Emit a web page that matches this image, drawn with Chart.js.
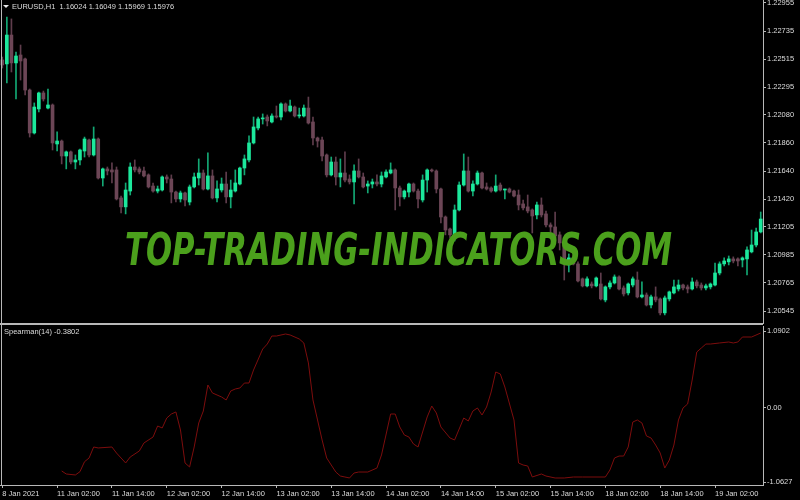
<!DOCTYPE html>
<html><head><meta charset="utf-8">
<script src="https://cdn.jsdelivr.net/npm/chart.js@4"></script>
<style>
html,body{margin:0;padding:0;background:#000;width:800px;height:500px;overflow:hidden}
canvas{position:absolute;left:0}
#main{top:0}
#sub{top:324px}
.lbl{position:absolute;color:#dcdcdc;font:7.5px "Liberation Sans",Arial,sans-serif;white-space:pre;line-height:10px}
#tri{position:absolute;left:3px;top:5px;width:0;height:0;border-left:3px solid transparent;border-right:3px solid transparent;border-top:3px solid #e8e8e8}
#wm{position:absolute;left:125px;top:228px;font:italic bold 44px "DejaVu Sans",sans-serif;line-height:44px;color:#4ba01c;white-space:pre;transform-origin:0 0}
</style></head><body>
<canvas id="main" width="800" height="324"></canvas>
<canvas id="sub" width="800" height="176"></canvas>
<div id="tri"></div>
<div class="lbl" id="title" style="left:12px;top:2px"></div>
<div class="lbl" id="ind" style="left:4px;top:327px"></div>
<div id="wm"></div>
<script>
// ---- data ----
const symbolTitle = 'EURUSD,H1  1.16024 1.16049 1.15969 1.15976';
const indicatorTitle = 'Spearman(14) -0.3802';
const watermark = 'TOP-TRADING-INDICATORS.COM';
const sessionDays = ['8 Jan','11 Jan','12 Jan','13 Jan','14 Jan','15 Jan','18 Jan','19 Jan'];
const firstDayStartHour = 14;
const lastDayEndHour = 12;
const firstLabel = '8 Jan 2021';
const priceTicks = [1.22955,1.22735,1.22515,1.22295,1.22080,1.21860,1.21640,1.21420,1.21205,1.20985,1.20765,1.20545];
const spearmanTicks = [1.0902, 0, -1.0627];

const opens = [
1.22509,1.22478,1.22704,1.22486,1.22548,1.22517,1.22274,1.21938,1.22126,1.22251,
1.22133,1.22157,1.21852,1.21875,1.21758,1.21790,1.21711,1.21727,1.21797,1.21883,
1.21766,1.21891,1.21586,1.21657,1.21649,1.21649,1.21430,1.21360,1.21484,1.21672,
1.21657,1.21641,1.21610,1.21523,1.21484,1.21492,1.21594,1.21578,1.21476,1.21422,
1.21469,1.21398,1.21516,1.21586,1.21625,1.21500,1.21602,1.21430,1.21492,1.21539,
1.21438,1.21484,1.21539,1.21664,1.21727,1.21860,1.21977,1.22048,1.22063,1.22024,
1.22071,1.22063,1.22165,1.22110,1.22141,1.22071,1.22071,1.22133,1.22024,1.21899,
1.21883,1.21766,1.21610,1.21711,1.21594,1.21625,1.21578,1.21555,1.21641,1.21594,
1.21523,1.21539,1.21555,1.21539,1.21594,1.21625,1.21649,1.21508,1.21438,1.21476,
1.21539,1.21484,1.21414,1.21570,1.21649,1.21641,1.21500,1.21281,1.21187,1.21141,
1.21336,1.21531,1.21641,1.21484,1.21539,1.21625,1.21516,1.21508,1.21484,1.21531,
1.21492,1.21500,1.21484,1.21453,1.21383,1.21360,1.21336,1.21297,1.21375,1.21305,
1.21219,1.21203,1.21141,1.21078,1.20906,1.20961,1.20914,1.20797,1.20742,1.20757,
1.20742,1.20757,1.20632,1.20734,1.20765,1.20812,1.20726,1.20687,1.20749,1.20788,
1.20656,1.20671,1.20593,1.20656,1.20640,1.20531,1.20640,1.20687,1.20718,1.20749,
1.20734,1.20718,1.20773,1.20749,1.20726,1.20734,1.20749,1.20843,1.20914,1.20930,
1.20953,1.20953,1.20945,1.20953,1.21008,1.21062,1.21164];
const highs = [
1.22532,1.22845,1.22830,1.22571,1.22626,1.22524,1.22282,1.22173,1.22258,1.22266,
1.22282,1.22165,1.21946,1.21883,1.21797,1.21797,1.21766,1.21813,1.21906,1.21891,
1.21985,1.21899,1.21664,1.21672,1.21704,1.21672,1.21445,1.21547,1.21704,1.21727,
1.21672,1.21672,1.21618,1.21547,1.21523,1.21602,1.21610,1.21610,1.21484,1.21484,
1.21476,1.21531,1.21625,1.21735,1.21649,1.21782,1.21649,1.21563,1.21586,1.21633,
1.21570,1.21649,1.21672,1.21766,1.21915,1.22063,1.22063,1.22087,1.22079,1.22087,
1.22149,1.22173,1.22173,1.22196,1.22149,1.22133,1.22157,1.22219,1.22063,1.21906,
1.21906,1.21774,1.21750,1.21750,1.21735,1.21790,1.21610,1.21688,1.21735,1.21625,
1.21563,1.21578,1.21610,1.21633,1.21649,1.21704,1.21657,1.21523,1.21492,1.21547,
1.21547,1.21500,1.21610,1.21657,1.21657,1.21649,1.21508,1.21289,1.21195,1.21375,
1.21555,1.21774,1.21750,1.21563,1.21641,1.21633,1.21547,1.21516,1.21610,1.21547,
1.21500,1.21508,1.21492,1.21492,1.21414,1.21453,1.21344,1.21398,1.21430,1.21328,
1.21235,1.21320,1.21164,1.21086,1.20992,1.20984,1.20930,1.20804,1.20812,1.20773,
1.20812,1.20843,1.20742,1.20781,1.20828,1.20820,1.20742,1.20765,1.20812,1.20851,
1.20773,1.20687,1.20671,1.20734,1.20648,1.20663,1.20702,1.20788,1.20788,1.20757,
1.20749,1.20804,1.20788,1.20765,1.20757,1.20765,1.20921,1.20930,1.20961,1.20976,
1.20969,1.20961,1.20969,1.21047,1.21179,1.21195,1.21320];
const lows = [
1.22446,1.22329,1.22415,1.22204,1.22352,1.22235,1.21906,1.21930,1.22102,1.22188,
1.22126,1.21805,1.21797,1.21696,1.21657,1.21696,1.21657,1.21688,1.21750,1.21750,
1.21758,1.21578,1.21523,1.21610,1.21547,1.21414,1.21313,1.21305,1.21453,1.21633,
1.21618,1.21594,1.21508,1.21476,1.21469,1.21484,1.21547,1.21391,1.21398,1.21398,
1.21367,1.21375,1.21508,1.21531,1.21492,1.21492,1.21422,1.21398,1.21476,1.21391,
1.21352,1.21476,1.21531,1.21610,1.21711,1.21852,1.21961,1.22008,1.21993,1.22016,
1.22055,1.22040,1.22102,1.22102,1.22063,1.22055,1.22063,1.22008,1.21844,1.21828,
1.21719,1.21594,1.21602,1.21531,1.21516,1.21555,1.21539,1.21383,1.21586,1.21508,
1.21469,1.21508,1.21523,1.21516,1.21586,1.21618,1.21336,1.21367,1.21422,1.21438,
1.21476,1.21352,1.21398,1.21476,1.21633,1.21469,1.21235,1.21141,1.21117,1.21093,
1.21328,1.21523,1.21476,1.21445,1.21531,1.21500,1.21492,1.21476,1.21476,1.21484,
1.21422,1.21469,1.21438,1.21336,1.21336,1.21313,1.21156,1.21266,1.21281,1.21203,
1.21156,1.21101,1.21023,1.20788,1.20851,1.20906,1.20773,1.20734,1.20734,1.20726,
1.20734,1.20632,1.20617,1.20718,1.20757,1.20710,1.20663,1.20671,1.20734,1.20648,
1.20648,1.20585,1.20570,1.20617,1.20515,1.20515,1.20624,1.20679,1.20702,1.20710,
1.20687,1.20710,1.20726,1.20710,1.20710,1.20718,1.20742,1.20828,1.20898,1.20906,
1.20922,1.20898,1.20890,1.20828,1.21000,1.21047,1.21156];
const closes = [
1.22470,1.22704,1.22486,1.22540,1.22501,1.22274,1.21938,1.22141,1.22251,1.22204,
1.22157,1.21860,1.21875,1.21758,1.21790,1.21711,1.21727,1.21805,1.21891,1.21766,
1.21891,1.21586,1.21657,1.21641,1.21633,1.21422,1.21360,1.21492,1.21672,1.21649,
1.21633,1.21602,1.21516,1.21484,1.21500,1.21594,1.21578,1.21476,1.21422,1.21469,
1.21414,1.21516,1.21594,1.21625,1.21500,1.21602,1.21430,1.21500,1.21539,1.21438,
1.21492,1.21547,1.21664,1.21735,1.21860,1.21985,1.22048,1.22055,1.22032,1.22071,
1.22063,1.22165,1.22110,1.22149,1.22071,1.22079,1.22133,1.22016,1.21899,1.21875,
1.21758,1.21610,1.21711,1.21594,1.21625,1.21570,1.21555,1.21641,1.21594,1.21516,
1.21539,1.21555,1.21539,1.21602,1.21633,1.21649,1.21508,1.21438,1.21484,1.21539,
1.21484,1.21422,1.21570,1.21649,1.21641,1.21500,1.21281,1.21179,1.21141,1.21336,
1.21531,1.21641,1.21484,1.21539,1.21625,1.21508,1.21500,1.21484,1.21523,1.21492,
1.21500,1.21476,1.21445,1.21375,1.21352,1.21328,1.21289,1.21375,1.21297,1.21219,
1.21203,1.21132,1.21078,1.20930,1.20961,1.20914,1.20781,1.20742,1.20797,1.20742,
1.20804,1.20640,1.20734,1.20765,1.20812,1.20718,1.20679,1.20757,1.20797,1.20656,
1.20671,1.20593,1.20656,1.20632,1.20531,1.20648,1.20695,1.20734,1.20749,1.20726,
1.20718,1.20773,1.20742,1.20726,1.20742,1.20757,1.20843,1.20914,1.20937,1.20953,
1.20937,1.20937,1.20961,1.21023,1.21062,1.21164,1.21265];

// Spearman(14) readings: bar position -> value
const spearmanBar = [13,14,16,17,18,19,20,21,24,25,27,28,30,31,33,34,35,36,37,38,39,40,41,42,43,44,45,46,48,49,50,51,52,53,54,55,57,58,59,60,62,63,65,66,67,68,69,70,71,73,74,75,76,77,78,80,82,83,85,86,87,88,89,90,91,93,94,95,96,98,99,101,102,103,104,105,106,107,108,109,110,112,113,114,115,116,118,119,121,123,125,127,132,133,134,135,136,137,138,139,140,141,142,143,144,145,146,147,148,149,150,151,152,153,154,155,157,159,160,161,162,164,166];
const spearmanValue = [-0.905,-0.948,-0.962,-0.915,-0.773,-0.720,-0.563,-0.577,-0.563,-0.649,-0.791,-0.706,-0.620,-0.506,-0.421,-0.264,-0.292,-0.150,-0.093,-0.064,-0.321,-0.791,-0.848,-0.563,-0.221,-0.050,0.321,0.207,0.150,0.107,0.235,0.264,0.278,0.349,0.349,0.535,0.834,0.905,1.019,1.019,1.048,1.034,0.977,0.920,0.635,0.107,-0.178,-0.463,-0.720,-0.920,-0.977,-0.991,-1.005,-0.934,-0.920,-0.920,-0.863,-0.677,-0.093,-0.093,-0.278,-0.392,-0.421,-0.520,-0.563,-0.135,0.021,-0.078,-0.278,-0.435,-0.463,-0.150,-0.192,-0.050,-0.007,-0.107,0.007,0.221,0.506,0.478,0.292,-0.178,-0.791,-0.820,-0.834,-0.991,-0.948,-0.977,-1.005,-1.005,-0.991,-0.991,-0.991,-0.891,-0.720,-0.692,-0.692,-0.563,-0.207,-0.178,-0.221,-0.406,-0.435,-0.535,-0.649,-0.863,-0.749,-0.535,-0.178,-0.007,0.050,0.392,0.791,0.848,0.905,0.905,0.920,0.934,0.920,0.934,1.005,1.005,1.062];

// ---- build categories (hourly bars) ----
const barTimes = [];
sessionDays.forEach((d, k) => {
  const h0 = k === 0 ? firstDayStartHour : 0;
  const h1 = k === sessionDays.length - 1 ? lastDayEndHour : 23;
  for (let h = h0; h <= h1; h++) barTimes.push(d + ' ' + String(h).padStart(2, '0') + ':00');
});

const BULL_BODY = '#1ce89c', BULL_WICK = '#13a874';
const BEAR_BODY = '#6c4656', BEAR_WICK = '#5f3d4c';
const AXIS = '#b8b8b8', TEXT = '#dcdcdc';
const FONT = {family: '"Liberation Sans", Arial, sans-serif', size: 7.5};
const isBull = opens.map((o, i) => closes[i] >= o);

const frame = {
  id: 'frame',
  afterDraw(chart, args, opts) {
    const c = chart.ctx, a = chart.chartArea;
    c.save();
    c.fillStyle = AXIS;
    c.fillRect(1, 0, 1, a.bottom);
    if (opts.sepBottom) c.fillRect(0, chart.height - 1, a.right, 1);
    if (opts.sepTop) c.fillRect(0, 0, a.right, 1);
    c.restore();
  }
};

Chart.defaults.color = TEXT;

new Chart(document.getElementById('main'), {
  type: 'bar',
  data: {
    labels: barTimes,
    datasets: [
      {data: lows.map((l, i) => [l, highs[i]]), backgroundColor: isBull.map(b => b ? BULL_WICK : BEAR_WICK),
       barThickness: 1, grouped: false, order: 2, borderWidth: 0},
      {data: opens.map((o, i) => [o, closes[i]]), backgroundColor: isBull.map(b => b ? BULL_BODY : BEAR_BODY),
       barThickness: 3, grouped: false, order: 1, minBarLength: 1, borderWidth: 0}
    ]
  },
  options: {
    responsive: false, animation: false, devicePixelRatio: 1,
    layout: {padding: 0},
    plugins: {legend: {display: false}, tooltip: {enabled: false}, frame: {sepBottom: true}},
    scales: {
      x: {display: false, offset: true},
      y: {
        position: 'right', min: 1.20444, max: 1.22978,
        afterBuildTicks(s) { s.ticks = priceTicks.map(v => ({value: v})); },
        afterFit(s) { s.width = 37; s.paddingTop = 0; s.paddingBottom = 0; },
        ticks: {callback: v => Number(v).toFixed(5), color: TEXT, font: FONT, padding: 1},
        grid: {drawOnChartArea: false, tickLength: 3, color: AXIS},
        border: {color: AXIS}
      }
    }
  },
  plugins: [frame]
});

const spearmanSeries = barTimes.map(() => null);
spearmanBar.forEach((b, k) => { spearmanSeries[b] = spearmanValue[k]; });

new Chart(document.getElementById('sub'), {
  type: 'line',
  data: {
    labels: barTimes,
    datasets: [{data: spearmanSeries, borderColor: '#7d0d0d', borderWidth: 1, pointRadius: 0, spanGaps: true, tension: 0}]
  },
  options: {
    responsive: false, animation: false, devicePixelRatio: 1,
    layout: {padding: {top: 2, left: 0, right: 0, bottom: 0}},
    plugins: {legend: {display: false}, tooltip: {enabled: false}, frame: {sepTop: true}},
    scales: {
      x: {
        offset: true,
        afterFit(s) { s.height = 15; s.paddingLeft = 0; s.paddingRight = 0; },
        ticks: {
          autoSkip: false, maxRotation: 0, minRotation: 0, align: 'start', padding: 1, color: TEXT, font: FONT,
          callback(v, i) {
            if (i === 0) return firstLabel;
            const t = barTimes[i];
            return (t.endsWith(' 02:00') || t.endsWith(' 14:00')) ? t : null;
          }
        },
        grid: {drawOnChartArea: false, offset: false, tickLength: 3, color: AXIS},
        border: {color: AXIS}
      },
      y: {
        position: 'right', min: -1.105, max: 1.162,
        afterBuildTicks(s) { s.ticks = spearmanTicks.map(v => ({value: v})); },
        afterFit(s) { s.width = 37; s.paddingTop = 0; s.paddingBottom = 0; },
        ticks: {callback: v => v === 0 ? '0.00' : Number(v).toFixed(4), color: TEXT, font: FONT, padding: 1},
        grid: {drawOnChartArea: false, tickLength: 3, color: AXIS},
        border: {color: AXIS}
      }
    }
  },
  plugins: [frame]
});

document.getElementById('title').textContent = symbolTitle;
document.getElementById('ind').textContent = indicatorTitle;
const wm = document.getElementById('wm');
wm.textContent = watermark;
const w = wm.getBoundingClientRect().width;
wm.style.transform = 'scaleX(' + (547 / w) + ')';
</script>
</body></html>
